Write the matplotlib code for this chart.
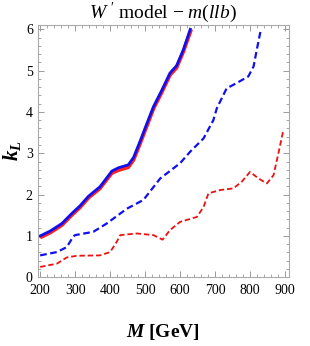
import matplotlib
matplotlib.use("Agg")
import matplotlib.pyplot as plt
from matplotlib.ticker import MultipleLocator

plt.rcParams['font.family'] = ['Liberation Serif', 'DejaVu Serif']
plt.rcParams['mathtext.fontset'] = 'custom'
plt.rcParams['mathtext.rm'] = 'Liberation Serif'
plt.rcParams['mathtext.it'] = 'Liberation Serif:italic'
plt.rcParams['mathtext.bf'] = 'Liberation Serif:bold'
plt.rcParams['mathtext.bfit'] = 'Liberation Serif:bold:italic'

# Blue solid
blue_solid_M = [200, 229, 262, 290, 314, 338, 371, 405, 424, 452, 467, 486, 505, 524, 548, 571, 590, 609, 629]
blue_solid_k = [1.00, 1.12, 1.30, 1.54, 1.73, 1.96, 2.19, 2.57, 2.65, 2.72, 2.90, 3.30, 3.72, 4.13, 4.53, 4.94, 5.12, 5.50, 6.00]
# Red solid
red_solid_M = [200, 229, 262, 290, 314, 338, 371, 405, 424, 452, 467, 486, 505, 524, 548, 571, 590, 609, 632]
red_solid_k = [0.96, 1.08, 1.26, 1.50, 1.69, 1.92, 2.15, 2.52, 2.59, 2.66, 2.84, 3.24, 3.66, 4.08, 4.48, 4.89, 5.07, 5.45, 6.00]
# Blue dashed
blue_dash_M = [200, 248, 276, 295, 300, 352, 390, 448, 495, 543, 600, 629, 667, 695, 705, 733, 762, 795, 810, 819, 831]
blue_dash_k = [0.53, 0.61, 0.73, 0.99, 1.02, 1.10, 1.30, 1.66, 1.87, 2.39, 2.76, 3.04, 3.36, 3.80, 4.09, 4.57, 4.70, 4.86, 5.10, 5.50, 6.00]
# Red dashed
red_dash_M = [200, 248, 276, 305, 371, 400, 419, 429, 476, 524, 550, 571, 600, 648, 667, 681, 714, 752, 776, 800, 824, 848, 867, 881, 895]
red_dash_k = [0.25, 0.33, 0.48, 0.52, 0.53, 0.61, 0.86, 1.02, 1.06, 1.02, 0.91, 1.14, 1.34, 1.46, 1.70, 2.03, 2.11, 2.15, 2.31, 2.55, 2.39, 2.27, 2.47, 3.00, 3.56]

fig = plt.figure(figsize=(3.1, 3.46), dpi=100)
ax = fig.add_axes([0.1216, 0.1986, 0.8104, 0.73])

ax.plot(red_solid_M, red_solid_k, color='#ff2020', lw=2.6, solid_capstyle='butt')
ax.plot(blue_solid_M, blue_solid_k, color='#1010ee', lw=2.0)
ax.plot(blue_dash_M, blue_dash_k, color='#1010ee', lw=1.6, dashes=(3, 1.6))
ax.plot(red_dash_M, red_dash_k, color='#ee1010', lw=1.3, dashes=(3, 1.6))

ax.set_xlim(193, 911)
ax.set_ylim(0, 6.11)
ax.xaxis.set_major_locator(MultipleLocator(100))
ax.xaxis.set_minor_locator(MultipleLocator(20))
ax.yaxis.set_major_locator(MultipleLocator(1))
ax.yaxis.set_minor_locator(MultipleLocator(0.2))
ax.tick_params(which='both', direction='in', top=True, right=True, color='#999999', labelsize=10)
ax.tick_params(which='major', length=4, width=0.7)
ax.tick_params(which='minor', length=2, width=0.6)
ax.tick_params(axis='x', pad=5)
for s in ax.spines.values():
    s.set_color('#aaaaaa')
    s.set_linewidth(0.8)

ax.set_title(r"$W\ '$ model $-$ $m(llb)$", fontsize=14, pad=5)
ax.set_xlabel(r"$\boldsymbol{M}$ [GeV]", fontsize=14, fontweight='bold', labelpad=18)
ax.set_ylabel(r"$\boldsymbol{k}_{\boldsymbol{L}}$", fontsize=15, rotation=90, labelpad=2)

fig.savefig("out.png", dpi=100)
